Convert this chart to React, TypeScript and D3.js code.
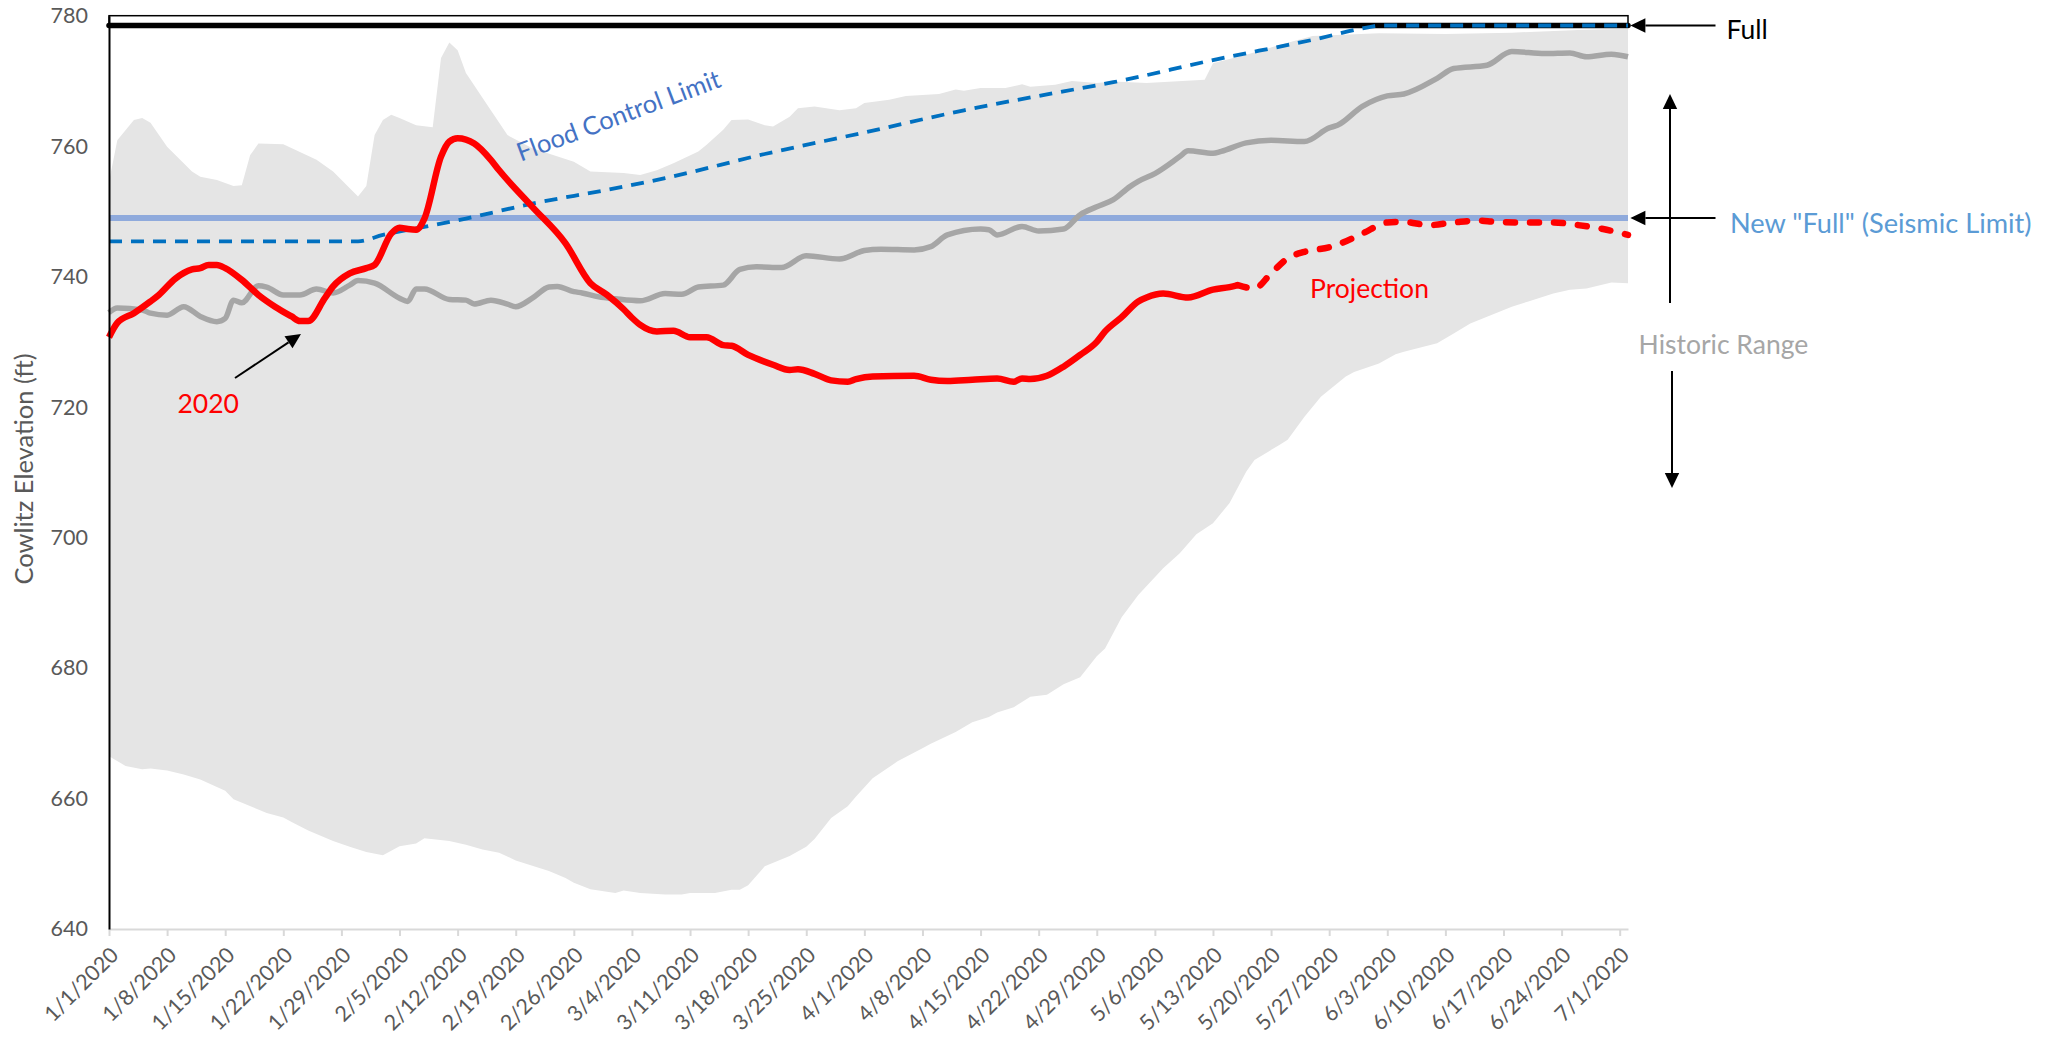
import React, { useEffect, useRef } from 'react';
import * as d3 from 'd3';

// [day offset from 1/1/2020, elevation ft]
const historicMax: [number, number][] = [
  [0, 754.5], [1, 760.9], [3, 764.0], [4, 764.3], [5, 763.6], [7, 759.9], [10, 756.1], [11, 755.3], [13, 754.8],
  [15, 753.9], [16, 754.0], [17, 758.6], [18, 760.4], [21, 760.3], [25, 757.9], [27, 756.1], [30, 752.3], [31, 753.9],
  [32, 761.7], [33, 764.0], [34, 764.8], [35, 764.3], [37, 763.2], [39, 762.9], [40, 773.5], [41, 775.9], [42, 774.7],
  [43, 771.2], [46, 765.5], [48, 761.7], [51, 759.7], [56, 757.6], [58, 756.1], [62, 755.9], [64, 755.6], [66, 756.3],
  [68, 757.4], [71, 759.2], [72, 760.2], [74, 762.5], [75, 764.0], [77, 764.1], [79, 763.2], [80, 763.0], [82, 764.5],
  [83, 765.8], [85, 766.1], [88, 765.5], [90, 765.8], [91, 766.6], [94, 767.1], [96, 767.7], [100, 768.0], [102, 768.7],
  [103, 768.5], [105, 768.9], [108, 768.9], [110, 769.5], [111, 769.1], [114, 769.4], [116, 770.0], [119, 769.7],
  [121, 769.9], [125, 769.7], [132, 770.2], [133, 772.7], [137, 774.0], [141, 775.5], [145, 776.9], [153, 777.3],
  [161, 777.2], [169, 777.4], [177, 777.8], [183, 778.0]
];

const historicMin: [number, number][] = [
  [0, 666.5], [2, 665.0], [4, 664.5], [5, 664.6], [7, 664.3], [9, 663.7], [11, 662.9], [14, 661.2], [15, 659.9],
  [19, 657.8], [21, 657.1], [22, 656.4], [24, 655.1], [27, 653.5], [29, 652.6], [31, 651.8], [33, 651.3], [34, 652.0],
  [35, 652.7], [37, 653.1], [38, 653.9], [41, 653.5], [43, 652.9], [45, 652.2], [47, 651.7], [49, 650.5], [53, 648.9],
  [55, 647.8], [56, 647.1], [58, 646.1], [61, 645.5], [62, 645.9], [64, 645.5], [67, 645.3], [69, 645.3], [70, 645.5],
  [73, 645.5], [75, 646.0], [76, 646.0], [77, 646.7], [79, 649.6], [82, 651.2], [84, 652.6], [85, 653.8], [87, 657.0],
  [89, 658.8], [90, 660.3], [92, 663.1], [95, 665.7], [98, 667.7], [99, 668.4], [102, 670.2], [104, 671.7], [106, 672.5],
  [107, 673.2], [109, 674.0], [111, 675.6], [113, 675.9], [114, 676.7], [115, 677.5], [117, 678.6], [119, 681.8],
  [120, 683.0], [122, 687.8], [124, 691.2], [127, 695.3], [129, 697.6], [131, 700.5], [133, 702.2], [135, 705.3],
  [137, 710.1], [138, 711.9], [141, 714.2], [142, 715.0], [144, 718.5], [146, 721.6], [149, 724.7], [150, 725.4],
  [153, 726.7], [155, 728.1], [156, 728.5], [160, 729.8], [162, 731.3], [164, 732.8], [169, 735.4], [171, 736.2],
  [174, 737.4], [176, 738.0], [178, 738.2], [181, 739.1], [183, 739.0]
];

const historicMedian: [number, number][] = [
  [0, 734.5], [1, 735.2], [4, 734.9], [5, 734.4], [7, 734.1], [9, 735.4], [11, 733.9], [13, 733.1], [14, 733.6],
  [15, 736.4], [16, 736.0], [18, 738.6], [19, 738.4], [21, 737.2], [23, 737.2], [25, 738.1], [27, 737.5], [29, 738.7],
  [30, 739.4], [32, 739.0], [35, 736.7], [36, 736.2], [37, 738.1], [38, 738.1], [41, 736.5], [43, 736.4], [44, 735.8],
  [46, 736.4], [48, 735.8], [49, 735.4], [51, 736.7], [53, 738.4], [54, 738.5], [56, 737.7], [57, 737.5], [59, 736.9],
  [61, 736.6], [64, 736.3], [67, 737.4], [69, 737.3], [71, 738.4], [74, 738.7], [76, 741.1], [78, 741.5], [81, 741.4],
  [84, 743.2], [88, 742.7], [91, 744.0], [93, 744.2], [97, 744.1], [99, 744.6], [101, 746.4], [105, 747.3], [106, 747.2],
  [107, 746.4], [110, 747.7], [112, 747.0], [115, 747.3], [117, 749.5], [119, 750.7], [121, 751.8], [123, 753.8],
  [124, 754.6], [126, 755.8], [129, 758.4], [130, 759.3], [133, 758.9], [134, 759.2], [137, 760.5], [140, 760.9],
  [144, 760.7], [147, 762.8], [148, 763.2], [151, 766.1], [154, 767.7], [156, 768.0], [160, 770.4], [162, 771.9],
  [166, 772.4], [169, 774.5], [173, 774.2], [176, 774.3], [178, 773.7], [181, 774.1], [183, 773.7]
];

const elevation2020: [number, number][] = [
  [0, 730.7], [1, 732.9], [3, 734.4], [5, 736.2], [6, 737.2], [8, 739.7], [10, 741.1], [11, 741.3], [12, 741.8],
  [13, 741.8], [14, 741.3], [16, 739.5], [18, 737.2], [20, 735.4], [22, 733.9], [23, 733.2], [24, 733.2], [26, 736.7],
  [27, 738.5], [29, 740.5], [31, 741.3], [32, 741.8], [34, 746.6], [35, 747.5], [36, 747.3], [37, 747.2], [38, 748.9],
  [40, 758.4], [41, 760.7], [42, 761.2], [44, 760.4], [46, 757.9], [47, 756.3], [51, 750.7], [55, 745.1], [58, 739.0],
  [60, 737.2], [62, 735.0], [63, 733.7], [64, 732.6], [66, 731.6], [68, 731.7], [70, 730.7], [72, 730.7], [74, 729.5],
  [75, 729.4], [77, 728.0], [80, 726.5], [82, 725.7], [83, 725.8], [85, 725.1], [87, 724.1], [89, 723.9], [90, 724.3],
  [92, 724.7], [97, 724.8], [99, 724.2], [101, 724.0], [104, 724.2], [107, 724.4], [109, 723.9], [110, 724.4],
  [111, 724.3], [113, 724.8], [115, 726.2], [117, 728.0], [119, 730.0], [120, 731.6], [122, 733.8], [124, 736.2],
  [125, 736.8], [127, 737.4], [130, 736.8], [133, 738.0], [135, 738.4], [136, 738.7]
];

const projection2020: [number, number][] = [
  [136, 738.7], [138, 738.2], [140, 740.5], [142, 742.8], [144, 743.8], [147, 744.5], [148, 744.9], [151, 746.6],
  [154, 748.3], [156, 748.4], [159, 747.9], [162, 748.3], [165, 748.6], [167, 748.4], [171, 748.3], [174, 748.3],
  [177, 747.9], [180, 747.3], [183, 746.4]
];

const floodControl: [number, number][] = [
  [0, 745.4], [30, 745.4], [33, 746.4], [37, 747.4], [43, 748.9], [51, 751.2], [60, 753.3], [67, 755.1], [79, 758.8],
  [91, 762.1], [103, 765.5], [115, 768.4], [121, 769.8], [133, 773.2], [145, 776.3], [152, 778.3], [153, 778.5],
  [183, 778.5]
];

const fullPool = 778.5;
const seismicLimit = 749;

const yTicks = [640, 660, 680, 700, 720, 740, 760, 780];
const xTickLabels = [
  '1/1/2020', '1/8/2020', '1/15/2020', '1/22/2020', '1/29/2020', '2/5/2020', '2/12/2020', '2/19/2020', '2/26/2020',
  '3/4/2020', '3/11/2020', '3/18/2020', '3/25/2020', '4/1/2020', '4/8/2020', '4/15/2020', '4/22/2020', '4/29/2020',
  '5/6/2020', '5/13/2020', '5/20/2020', '5/27/2020', '6/3/2020', '6/10/2020', '6/17/2020', '6/24/2020', '7/1/2020'
];

const FONT = "Lato, 'Open Sans', sans-serif";
const start = new Date(2020, 0, 1);
const parseDate = d3.timeParse('%m/%d/%Y');
const fmtDate = d3.timeFormat('%-m/%-d/%Y');

function App() {
  const ref = useRef<SVGSVGElement>(null);

  useEffect(() => {
    const svg = d3.select(ref.current);
    svg.selectAll('*').remove();

    const x = d3.scaleTime()
      .domain([start, new Date(2020, 6, 2)])
      .range([109, 1628]);
    const y = d3.scaleLinear()
      .domain([640, 780])
      .range([929, 15.7]);

    const px = (d: [number, number]) => x(d3.timeDay.offset(start, d[0]));
    const py = (d: [number, number]) => y(d[1]);

    // historic range band
    const edge = d3.line<[number, number]>().x(px).y(py);
    svg.append('path')
      .attr('d', edge([...historicMax, ...historicMin.slice().reverse()]) + 'Z')
      .attr('fill', '#E5E5E5');

    // frame + full pool line
    svg.append('rect')
      .attr('x', 109).attr('y', 15.7)
      .attr('width', 1519).attr('height', y(fullPool) - 15.7)
      .attr('fill', 'none').attr('stroke', '#000').attr('stroke-width', 1.5);
    svg.append('line')
      .attr('x1', x(start)).attr('x2', 1628)
      .attr('y1', y(fullPool)).attr('y2', y(fullPool))
      .attr('stroke', '#000').attr('stroke-width', 5.5).attr('stroke-linecap', 'round');

    svg.append('line')
      .attr('x1', x(start)).attr('x2', 1628)
      .attr('y1', y(seismicLimit)).attr('y2', y(seismicLimit))
      .attr('stroke', '#8FAADC').attr('stroke-width', 6);

    const smooth = d3.line<[number, number]>().x(px).y(py).curve(d3.curveMonotoneX);

    svg.append('path').attr('d', smooth(historicMedian))
      .attr('fill', 'none').attr('stroke', '#A6A6A6').attr('stroke-width', 5.5).attr('stroke-linejoin', 'round');

    svg.append('path').attr('d', smooth(floodControl))
      .attr('fill', 'none').attr('stroke', '#0070C0').attr('stroke-width', 3.8)
      .attr('stroke-dasharray', '13,9');

    svg.append('path').attr('d', smooth(elevation2020))
      .attr('fill', 'none').attr('stroke', '#FF0000').attr('stroke-width', 6.5).attr('stroke-linejoin', 'round');

    svg.append('path').attr('d', smooth(projection2020))
      .attr('fill', 'none').attr('stroke', '#FF0000').attr('stroke-width', 6.5)
      .attr('stroke-linecap', 'round').attr('stroke-dasharray', '9,15');

    // axes
    const xAxis = svg.append('g')
      .attr('transform', 'translate(0,' + y(640) + ')')
      .call(d3.axisBottom(x)
        .tickValues(xTickLabels.map(s => parseDate(s) as Date))
        .tickFormat(d => fmtDate(d as Date))
        .tickSize(7).tickSizeOuter(0));
    xAxis.select('.domain').attr('stroke', '#D9D9D9').attr('stroke-width', 2);
    xAxis.selectAll('.tick line').attr('stroke', '#D9D9D9').attr('stroke-width', 2);
    xAxis.selectAll('.tick text')
      .attr('x', 0).attr('y', 0).attr('dy', '0.35em')
      .attr('text-anchor', 'end')
      .attr('transform', 'translate(5,22) rotate(-45)')
      .attr('fill', '#595959').attr('font-size', 21.5).attr('font-family', FONT);

    const yAxis = svg.append('g')
      .attr('transform', 'translate(' + x(start) + ',0)')
      .call(d3.axisLeft(y).tickValues(yTicks).tickSize(0).tickPadding(21).tickSizeOuter(0));
    yAxis.select('.domain').attr('stroke', '#000').attr('stroke-width', 2);
    yAxis.selectAll('.tick text')
      .attr('fill', '#595959').attr('font-size', 21.5).attr('font-family', FONT);

    svg.append('text')
      .attr('transform', 'translate(33,469) rotate(-90)')
      .attr('text-anchor', 'middle')
      .attr('fill', '#595959').attr('font-size', 25.5).attr('font-family', FONT)
      .text('Cowlitz Elevation (ft)');

    // annotations
    const arrow = (x1: number, y1: number, x2: number, y2: number) => {
      const a = Math.atan2(y2 - y1, x2 - x1);
      const len = 15, half = 7.2;
      const bx = x2 - len * Math.cos(a), by = y2 - len * Math.sin(a);
      svg.append('line')
        .attr('x1', x1).attr('y1', y1).attr('x2', bx).attr('y2', by)
        .attr('stroke', '#000').attr('stroke-width', 2);
      svg.append('polygon')
        .attr('points', [
          [x2, y2],
          [bx + half * Math.sin(a), by - half * Math.cos(a)],
          [bx - half * Math.sin(a), by + half * Math.cos(a)]
        ].map(p => p.join(',')).join(' '))
        .attr('fill', '#000');
    };

    arrow(1715.5, y(fullPool), 1630.4, y(fullPool));
    arrow(1715.5, y(seismicLimit), 1630.4, y(seismicLimit));
    arrow(1670, 303, 1670, 94);
    arrow(1672, 371, 1672, 488);
    arrow(235, 378, 301, 334);

    const label = (t: string, lx: number, ly: number, color: string, size = 26.5) =>
      svg.append('text')
        .attr('x', lx).attr('y', ly)
        .attr('fill', color).attr('font-size', size).attr('font-family', FONT)
        .text(t);

    label('Full', 1726.5, 39, '#000');
    label('New "Full" (Seismic Limit)', 1730, 232.7, '#5B9BD5', 27.2);
    label('Historic Range', 1638.6, 353.5, '#A6A6A6');
    label('2020', 177.5, 412.7, '#FF0000');
    label('Projection', 1310, 297.7, '#FF0000');
    label('Flood Control Limit', 0, 0, '#4472C4', 25.5)
      .attr('transform', 'translate(520.7,161.7) rotate(-20.5)');
  }, []);

  return (
    <div>
      <style>{'body{margin:0;overflow:hidden}'}</style>
      <svg ref={ref} width={2053} height={1040} style={{ display: 'block', background: '#fff' }} />
    </div>
  );
}

export default App;
